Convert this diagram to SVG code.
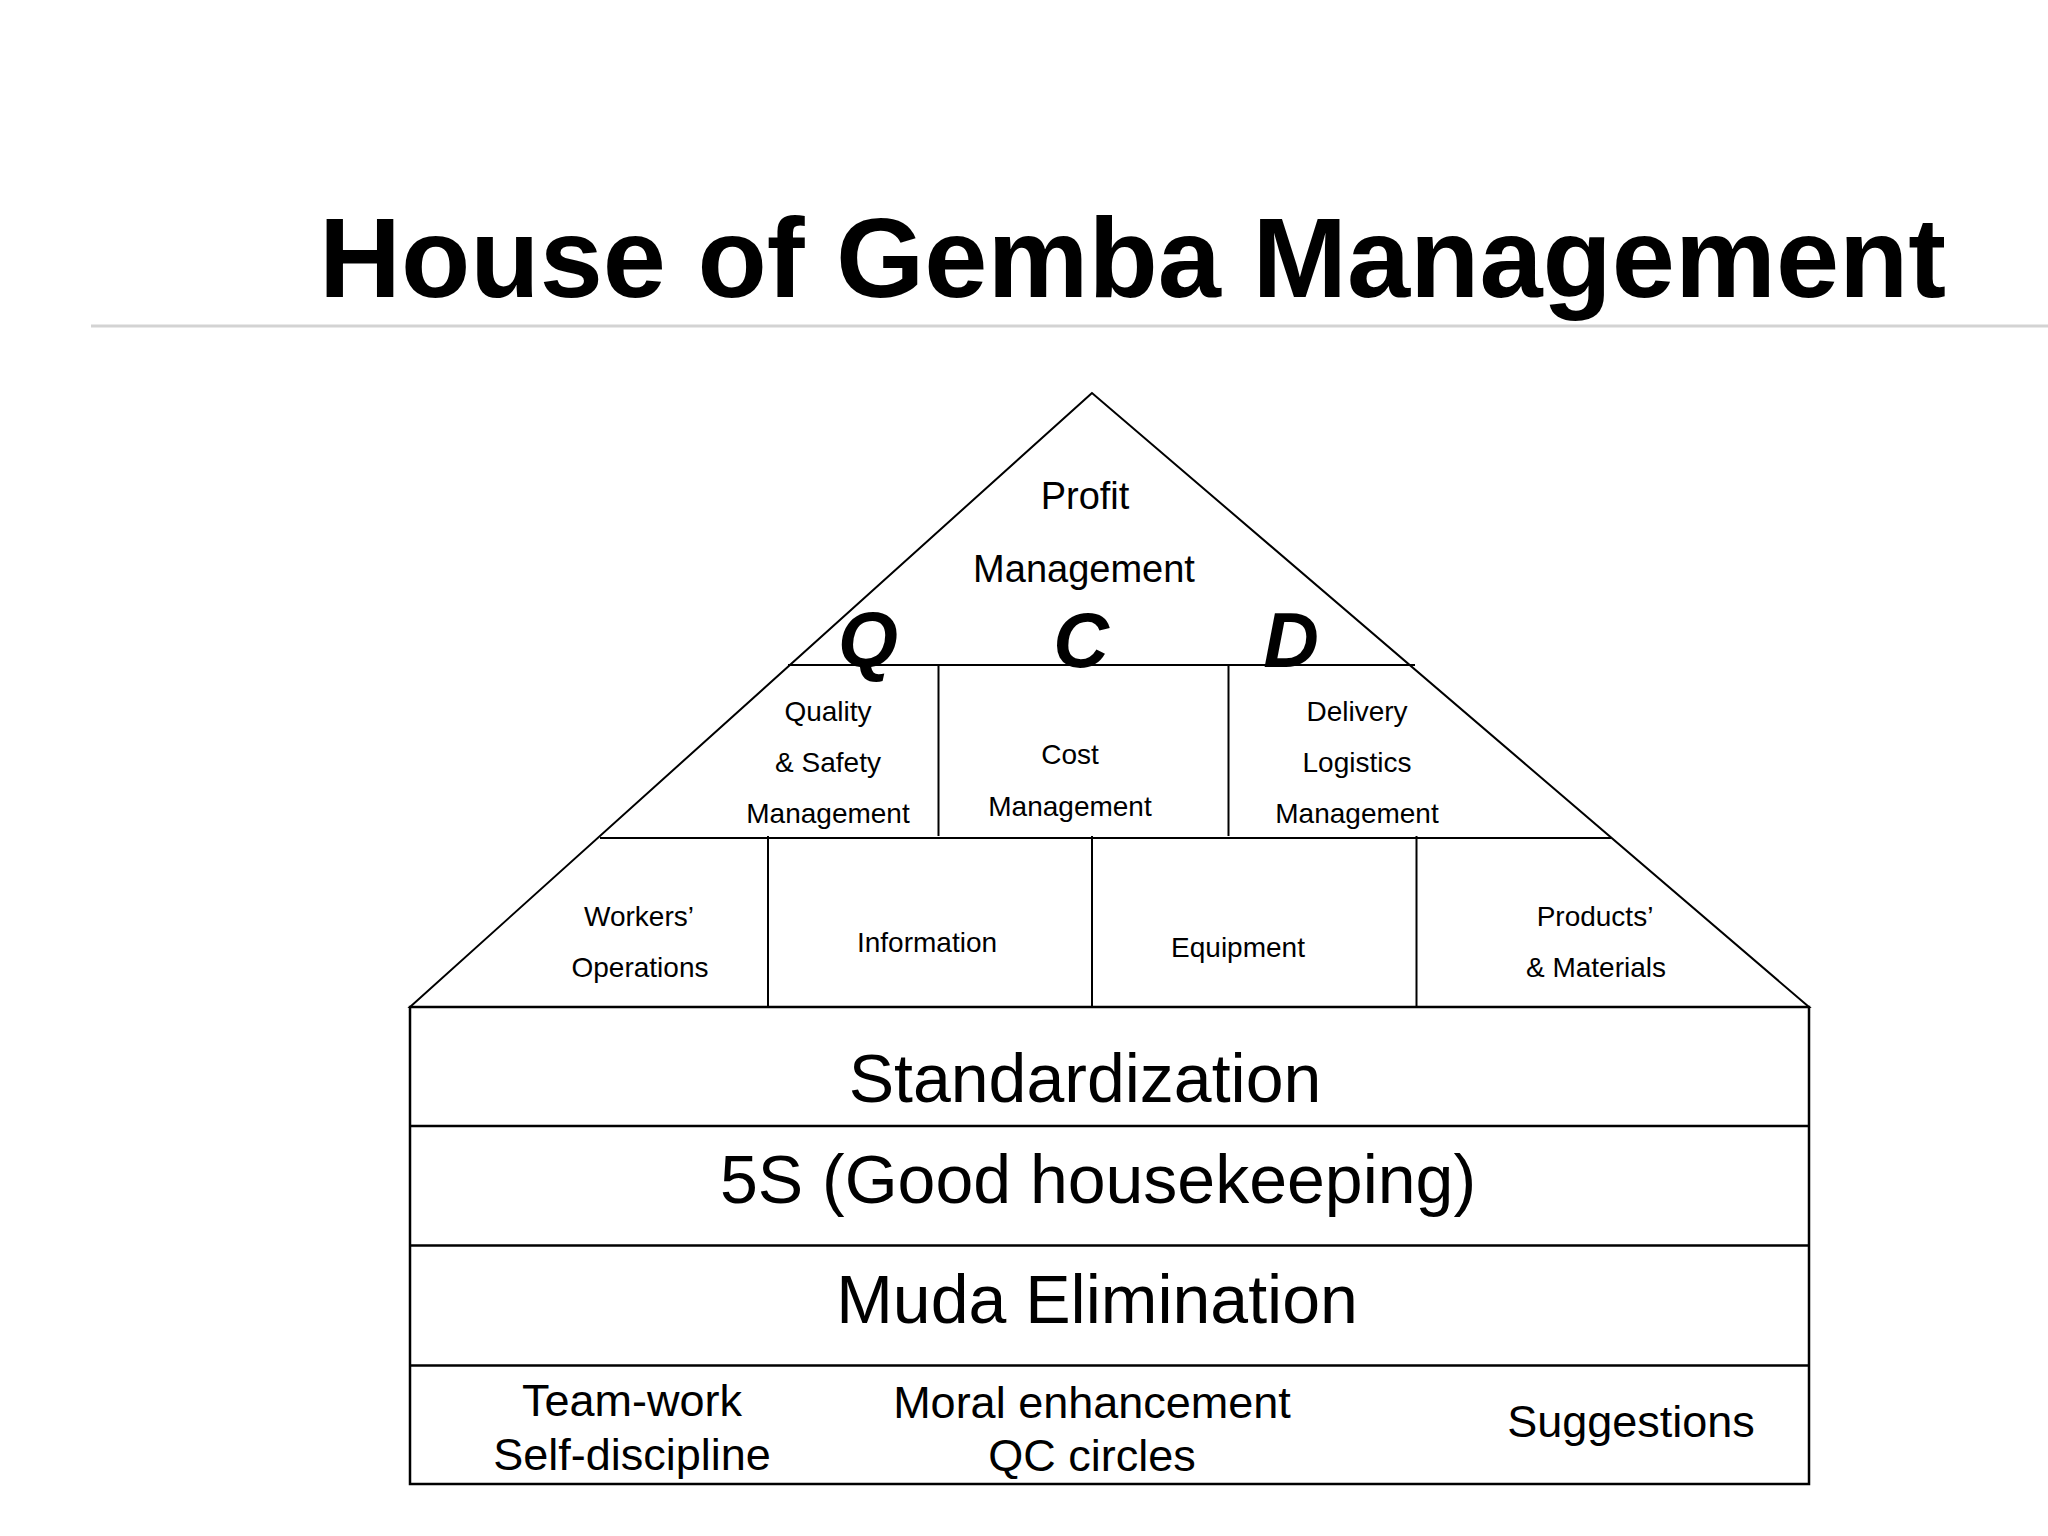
<svg xmlns="http://www.w3.org/2000/svg" width="2048" height="1536" viewBox="0 0 2048 1536">
<style>
  .ln { stroke:#000; stroke-width:2; fill:none; }
  .bx { stroke:#000; stroke-width:2.5; fill:none; }
  .t  { font-family:"Liberation Sans", Arial, sans-serif; fill:#000; text-anchor:middle; }
  .s  { font-size:28px; }
  .m  { font-size:38px; }
  .b  { font-size:45px; }
  .L  { font-size:68px; }
  .q  { font-size:77px; font-weight:bold; font-style:italic; }
</style>
<rect x="0" y="0" width="2048" height="1536" fill="#fff"/>

<g id="title">
  <text x="319" y="297" font-family="Liberation Sans, Arial, sans-serif" font-weight="bold" font-size="113.5" fill="#000">House of Gemba Management</text>
  <line x1="91" y1="326" x2="2048" y2="326" stroke="#d3d3d3" stroke-width="3"/>
</g>

<g id="roof">
  <polygon class="ln" points="1092,393 410,1007 1809,1007"/>
  <line class="ln" x1="788" y1="665" x2="1415" y2="665"/>
  <line class="ln" x1="600" y1="838" x2="1611" y2="838"/>
</g>

<g id="profit">
  <text class="t m" x="1085" y="509">Profit</text>
  <text class="t m" x="1084" y="582">Management</text>
</g>

<g id="qcd">
  <text class="t q" x="868" y="667">Q</text>
  <text class="t q" x="1081" y="667">C</text>
  <text class="t q" x="1291" y="667">D</text>
</g>

<g id="row1-dividers">
  <line class="ln" x1="938.5" y1="665" x2="938.5" y2="836"/>
  <line class="ln" x1="1228.5" y1="665" x2="1228.5" y2="836"/>
</g>

<g id="quality">
  <text class="t s" x="828" y="721">Quality</text>
  <text class="t s" x="828" y="772">&amp; Safety</text>
  <text class="t s" x="828" y="823">Management</text>
</g>
<g id="cost">
  <text class="t s" x="1070" y="764">Cost</text>
  <text class="t s" x="1070" y="816">Management</text>
</g>
<g id="delivery">
  <text class="t s" x="1357" y="721">Delivery</text>
  <text class="t s" x="1357" y="772">Logistics</text>
  <text class="t s" x="1357" y="823">Management</text>
</g>

<g id="row2-dividers">
  <line class="ln" x1="768" y1="836" x2="768" y2="1007"/>
  <line class="ln" x1="1092" y1="836" x2="1092" y2="1007"/>
  <line class="ln" x1="1416.5" y1="836" x2="1416.5" y2="1007"/>
</g>

<g id="workers">
  <text class="t s" x="639" y="926">Workers’</text>
  <text class="t s" x="640" y="977">Operations</text>
</g>
<g id="information">
  <text class="t s" x="927" y="952">Information</text>
</g>
<g id="equipment">
  <text class="t s" x="1238" y="957">Equipment</text>
</g>
<g id="products">
  <text class="t s" x="1595" y="926">Products’</text>
  <text class="t s" x="1596" y="977">&amp; Materials</text>
</g>

<g id="foundation">
  <rect class="bx" x="410" y="1007" width="1399" height="477"/>
  <line class="bx" x1="410" y1="1126" x2="1809" y2="1126"/>
  <line class="bx" x1="410" y1="1245.5" x2="1809" y2="1245.5"/>
  <line class="bx" x1="410" y1="1365.5" x2="1809" y2="1365.5"/>
</g>

<g id="standardization">
  <text class="t L" x="1085" y="1102">Standardization</text>
</g>
<g id="five-s">
  <text class="t L" x="1098" y="1203">5S (Good housekeeping)</text>
</g>
<g id="muda">
  <text class="t L" x="1097" y="1323">Muda Elimination</text>
</g>
<g id="teamwork">
  <text class="t b" x="632" y="1416">Team-work</text>
  <text class="t b" x="632" y="1470">Self-discipline</text>
</g>
<g id="moral">
  <text class="t b" x="1092" y="1418">Moral enhancement</text>
  <text class="t b" x="1092" y="1471">QC circles</text>
</g>
<g id="suggestions">
  <text class="t b" x="1631" y="1437">Suggestions</text>
</g>
</svg>
